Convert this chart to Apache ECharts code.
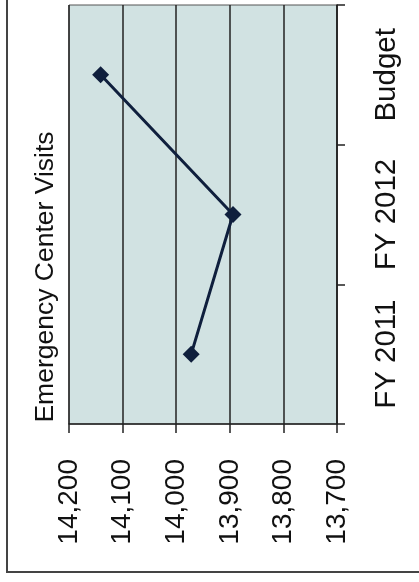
<!DOCTYPE html>
<html>
<head>
<meta charset="utf-8">
<script src="https://cdn.jsdelivr.net/npm/echarts@6/dist/echarts.min.js"></script>
<style>
  html, body { margin: 0; padding: 0; background: #ffffff; }
  #chart { width: 419px; height: 582px; }
</style>
</head>
<body>
<div id="chart"></div>
<script>
// Emergency Center Visits by period (chart is laid out sideways)
const periods = ['FY 2011', 'FY 2012', 'Budget'];
const visits = [13972, 13894, 14141];
const visitTicks = [13700, 13800, 13900, 14000, 14100, 14200];
const chartTitle = 'Emergency Center Visits';

const fmt = v => String(v).replace(/\B(?=(\d{3})+(?!\d))/g, ',');
const FONT = '"Liberation Sans", Arial, sans-serif';

const chart = echarts.init(document.getElementById('chart'));
chart.setOption({
  animation: false,
  backgroundColor: '#ffffff',
  grid: {
    left: 69, right: 82, top: 5, bottom: 158,
    show: true, backgroundColor: '#d1e2e2', borderColor: '#555', borderWidth: 1
  },
  xAxis: {
    type: 'value',
    inverse: true,
    position: 'bottom',
    min: visitTicks[0],
    max: visitTicks[visitTicks.length - 1],
    interval: visitTicks[1] - visitTicks[0],
    axisLine: { show: true, lineStyle: { color: '#222', width: 1.5 } },
    axisTick: { show: true, length: 9, lineStyle: { color: '#222', width: 1.5 } },
    splitLine: { show: true, lineStyle: { color: '#222', width: 1.5 } },
    axisLabel: {
      rotate: 90, margin: 35, fontSize: 28, fontFamily: FONT, color: '#111',
      formatter: fmt, hideOverlap: false
    }
  },
  yAxis: {
    type: 'category',
    position: 'right',
    data: periods,
    boundaryGap: true,
    axisLine: { show: true, lineStyle: { color: '#222', width: 1.5 } },
    axisTick: { show: true, length: 8, interval: 0, lineStyle: { color: '#222', width: 1.5 } },
    splitLine: { show: false },
    axisLabel: {
      rotate: 90, margin: 35, fontSize: 29.5, fontFamily: FONT, color: '#111',
      interval: 0, hideOverlap: false
    }
  },
  graphic: [
    {
      type: 'rect', silent: true, z: -1,
      shape: { x: 7, y: -4, width: 430, height: 576 },
      style: { fill: 'none', stroke: '#444', lineWidth: 2 }
    },
    {
      type: 'text', x: 46, y: 277, rotation: Math.PI / 2,
      style: {
        text: chartTitle, fontSize: 26.5, fontFamily: FONT, fill: '#111',
        align: 'center', verticalAlign: 'middle'
      }
    }
  ],
  series: [{
    type: 'line',
    data: visits,
    symbol: 'diamond',
    symbolSize: 17,
    lineStyle: { color: '#0f1f3d', width: 3 },
    itemStyle: { color: '#0f1f3d' }
  }]
});
</script>
</body>
</html>
